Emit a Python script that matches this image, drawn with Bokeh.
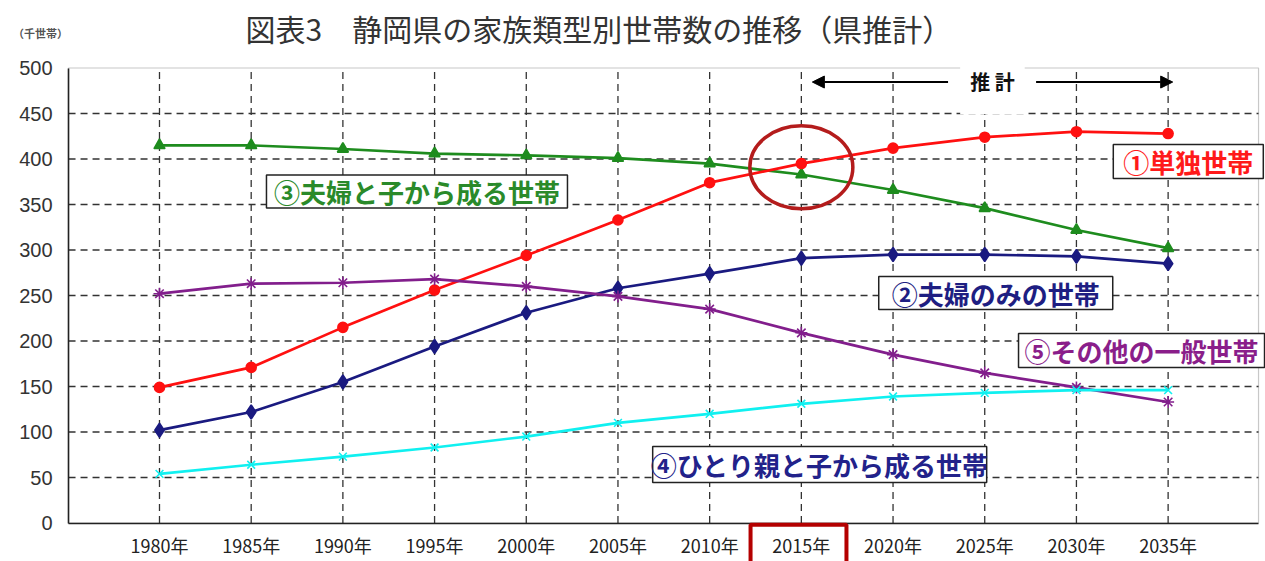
from bokeh.plotting import figure
from bokeh.models import Label, Arrow, NormalHead, BoxAnnotation, FixedTicker, Range1d
from bokeh.embed import file_html
from bokeh.resources import INLINE

# ---------------- data ----------------
years = [1980, 1985, 1990, 1995, 2000, 2005, 2010, 2015, 2020, 2025, 2030, 2035]
year_labels = ["1980年", "1985年", "1990年", "1995年", "2000年", "2005年",
               "2010年", "2015年", "2020年", "2025年", "2030年", "2035年"]
y_ticks = [0, 50, 100, 150, 200, 250, 300, 350, 400, 450, 500]

single = [149, 171, 215, 256, 294, 333, 374, 395, 412, 424, 430, 428]          # ①単独世帯
couple_only = [102, 122, 155, 194, 231, 258, 274, 291, 295, 295, 293, 285]     # ②夫婦のみの世帯
couple_children = [415, 415, 411, 406, 404, 401, 395, 383, 366, 346, 322, 302] # ③夫婦と子から成る世帯
single_parent = [54, 64, 73, 83, 95, 110, 120, 131, 139, 143, 146, 146]        # ④ひとり親と子から成る世帯
other = [252, 263, 264, 268, 260, 249, 235, 209, 185, 165, 149, 133]           # ⑤その他の一般世帯

title_text = "図表3　静岡県の家族類型別世帯数の推移（県推計）"
unit_text = "（千世帯）"
proj_text = "推 計"

JP = "Noto Sans CJK JP"

# plot-area extent (data units)
X0, X1 = 1975.04, 2039.93
Y0, Y1 = 0, 500

p = figure(width=1265, height=561, x_range=Range1d(1971.33, 2040.31), y_range=Range1d(-42.3, 574.2),
           output_backend="svg", toolbar_location=None,
           min_border=0, min_border_left=0, min_border_right=0, min_border_top=0, min_border_bottom=0)
p.background_fill_color = "white"
p.border_fill_color = "white"
p.outline_line_color = None
p.xgrid.visible = False
p.ygrid.visible = False

# plot-area border (light grey top/right; axes drawn over left/bottom)
p.add_layout(BoxAnnotation(left=X0, right=X1, bottom=Y0, top=Y1, fill_color=None, fill_alpha=0,
                           line_color="#c8c8c8", line_alpha=1, line_width=1.2, level="underlay"))

# grid lines
grid_y = y_ticks[1:-1]
p.segment(x0=[X0] * len(grid_y), y0=grid_y, x1=[X1] * len(grid_y), y1=grid_y,
          line_color="#333333", line_dash="7 5", line_width=1.3)
p.segment(x0=years, y0=[Y0] * len(years), x1=years, y1=[Y1] * len(years),
          line_color="#333333", line_dash="7 5", line_width=1.3)

# axes at fixed locations
p.xaxis.fixed_location = 0
p.xaxis.bounds = (X0, X1)
p.xaxis.ticker = FixedTicker(ticks=years)
p.xaxis.major_label_overrides = {y: lab for y, lab in zip(years, year_labels)}
p.xaxis.major_label_text_font = JP
p.xaxis.major_label_text_font_size = "18px"
p.xaxis.major_label_text_color = "#222222"
p.xaxis.major_label_standoff = 9
p.yaxis.fixed_location = X0
p.yaxis.bounds = (Y0, Y1)
p.yaxis.ticker = FixedTicker(ticks=y_ticks)
p.yaxis.major_label_text_font = "Liberation Sans"
p.yaxis.major_label_text_font_size = "20px"
p.yaxis.major_label_text_color = "#333333"
p.yaxis.major_label_standoff = 16
for ax in (p.xaxis, p.yaxis):
    ax.axis_line_color = "#222222"
    ax.axis_line_width = 1.6
    ax.major_tick_line_color = None
    ax.minor_tick_line_color = None
    ax.major_tick_out = 0
    ax.major_tick_in = 0

# series
series = [
    (couple_children, "#1E8C1E", "triangle", 11),
    (single, "#FF1010", "circle", 10),
    (couple_only, "#1A1A80", "diamond", 14),
    (other, "#821E8C", "asterisk", 12),
    (single_parent, "#10F0F0", "x", 11),
]
for vals, col, mk, sz in series:
    p.line(years, vals, line_color=col, line_width=2.7)
    p.scatter(years, vals, marker=mk, size=sz, line_color=col, fill_color=col, line_width=1.6)

# highlight ellipse and box around 2015
p.ellipse(x=[2015], y=[391], width=103, height=83, width_units="screen", height_units="screen",
          fill_color=None, line_color="#B41C1C", line_width=3.5)
p.add_layout(BoxAnnotation(left=2012.23, right=2017.46, bottom=-60, top=-1.8,
                           fill_color=None, fill_alpha=0, line_color="#B40000", line_alpha=1,
                           line_width=4))

# projection label and arrows
p.add_layout(Label(x=2025.42, y=485, text=proj_text, text_align="center", text_baseline="middle",
                   text_font=JP, text_font_size="20px", text_font_style="bold", text_color="#111111",
                   background_fill_color="white", padding=(10, 18)))
head = dict(size=12, fill_color="black", line_color="black")
p.add_layout(Arrow(x_start=2023.0, y_start=484.6, x_end=2015.6, y_end=484.6,
                   end=NormalHead(**head), line_color="black", line_width=2))
p.add_layout(Arrow(x_start=2027.8, y_start=484.6, x_end=2035.25, y_end=484.6,
                   end=NormalHead(**head), line_color="black", line_width=2))

# series labels: (x, y, box width px, box height px, text, colour)
labels = [
    (2036.1, 397.3, 150, 34, "①単独世帯", "#FF1A1A"),
    (2025.6, 252.7, 234, 33, "②夫婦のみの世帯", "#1E1E82"),
    (1994.04, 364.3, 301, 33, "③夫婦と子から成る世帯", "#2A8A2A"),
    (2016.0, 64.3, 334, 36, "④ひとり親と子から成る世帯", "#22228A"),
    (2033.55, 189.6, 246, 34, "⑤その他の一般世帯", "#8A1E8A"),
]
for x, y, bw, bh, t, c in labels:
    p.rect(x=[x], y=[y], width=bw, height=bh, width_units="screen", height_units="screen",
           fill_color="white", line_color="#222222", line_width=1.5)
    p.add_layout(Label(x=x, y=y, text=t, text_align="center", text_baseline="middle",
                       text_font=JP, text_font_size="26px", text_font_style="bold", text_color=c))

# title and unit
p.add_layout(Label(x=1984.69, y=544.5, text=title_text, text_align="left", text_baseline="middle",
                   text_font=JP, text_font_size="30px", text_color="#333333"))
p.add_layout(Label(x=1973.51, y=539, text=unit_text, text_align="center", text_baseline="middle",
                   text_font=JP, text_font_size="11px", text_font_style="bold", text_color="#555555"))

open("out.html", "w").write(file_html(p, INLINE))
